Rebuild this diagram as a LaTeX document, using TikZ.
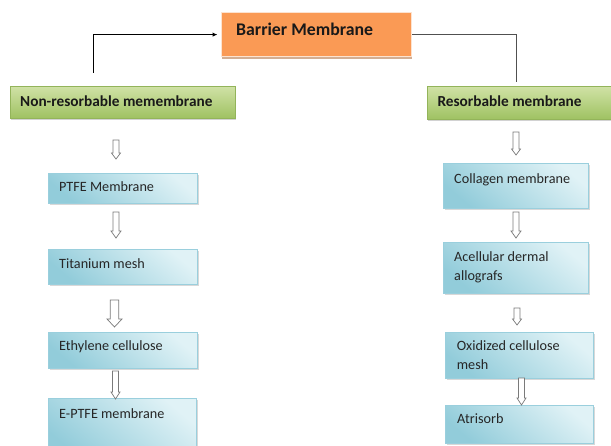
\documentclass[tikz,border=0pt]{standalone}
\usepackage{fontspec}
\setmainfont{Carlito}
\usetikzlibrary{shadows,calc,arrows.meta}
\definecolor{orangefill}{HTML}{FA9A55}
\definecolor{orangeedge}{HTML}{FDE3D0}
\definecolor{orangeshadow}{HTML}{C99A78}
\definecolor{greentop}{HTML}{D0E2A6}
\definecolor{greenbot}{HTML}{9FC262}
\definecolor{greenedge}{HTML}{93B45A}
\definecolor{bluelight}{HTML}{E0F2F6}
\definecolor{bluedark}{HTML}{92CCDA}
\definecolor{blueedge}{HTML}{9ACFDD}
\definecolor{txtcol}{HTML}{262626}
\definecolor{arrowgray}{HTML}{7A7A7A}
\definecolor{conngray}{HTML}{505050}
\tikzset{
  orangebox/.style={rectangle, anchor=north west, inner sep=0pt, fill=orangefill,
    draw=orangeedge, line width=1.2pt,
    drop shadow={shadow xshift=0.5pt, shadow yshift=-2.5pt, fill=orangeshadow, opacity=0.8}},
  greenbox/.style={rectangle, anchor=north west, inner sep=0pt, top color=greentop,
    bottom color=greenbot, draw=greenedge, line width=0.6pt,
    drop shadow={shadow xshift=1pt, shadow yshift=-1.5pt, opacity=0.35}},
  bluebox/.style={rectangle, anchor=north west, inner sep=0pt, top color=bluelight,
    bottom color=bluedark, shading angle=-40, draw=blueedge, line width=0.6pt,
    drop shadow={shadow xshift=1.2pt, shadow yshift=-1.5pt, opacity=0.3}},
  boxtxt/.style={anchor=base west, inner sep=0pt, text=txtcol,
    font=\fontsize{14.2}{19}\selectfont},
  headtxt/.style={anchor=base west, inner sep=0pt, text=black!90,
    font=\bfseries\fontsize{15.3}{19}\selectfont},
  titletxt/.style={anchor=base west, inner sep=0pt, text=black!90,
    font=\bfseries\fontsize{17.8}{21}\selectfont},
  holline/.style={draw=arrowgray, fill=white, line width=0.7pt, line join=miter},
  pics/holarrow/.style n args={4}{code={
    \draw[holline] (-#3,0) -- (#3,0) -- (#3,#1-#4) -- (#2,#1-#4) -- (0,#1)
      -- (-#2,#1-#4) -- (-#3,#1-#4) -- cycle;
  }},
  connblack/.style={draw=black, line width=1.1pt},
  conngrey/.style={draw=conngray, line width=0.9pt}
}
\begin{document}
\begin{tikzpicture}[x=1pt,y=-1pt]
\clip (0,0) rectangle (611,445);
\fill[white] (0,0) rectangle (611,445);

% title
\node[orangebox, minimum width=190pt, minimum height=44pt] (bm) at (221,12) {};
\node[titletxt] (bmt) at (236,35) {Barrier Membrane};

% green headers
\node[greenbox, minimum width=225pt, minimum height=32pt] (nr) at (10,86) {};
\node[headtxt] (nrt) at (20,106) {Non-resorbable memembrane};
\node[greenbox, minimum width=200pt, minimum height=33pt] (rs) at (427,86) {};
\node[headtxt] (rst) at (437.3,106.7) {Resorbable membrane};

% connectors
\coordinate (lstart) at (93.3,72.7);
\coordinate (rend) at (516,81.7);
\draw[connblack, -{Latex[length=5pt,width=4.5pt]}, shorten >=3.5pt] (lstart) |- (bm.west);
\draw[conngrey] (bm.east) -| (rend);

% left column
\node[bluebox, minimum width=149pt, minimum height=30pt] (b1) at (48,173) {};
\node[boxtxt] (b1t) at (59,191.5) {PTFE Membrane};
\node[bluebox, minimum width=149pt, minimum height=35pt] (b2) at (48,249) {};
\node[boxtxt] (b2t) at (59,268) {Titanium mesh};
\node[bluebox, minimum width=149pt, minimum height=36pt] (b3) at (48,332) {};
\node[boxtxt] (b3t) at (59,350.7) {Ethylene cellulose};
\node[bluebox, minimum width=148pt, minimum height=60pt] (b4) at (48,398) {};
\node[boxtxt] (b4t) at (59,418) {E-PTFE membrane};

\pic (a1) at (116,140) {holarrow={19}{4.5}{3}{6}};
\pic (a2) at (116,212) {holarrow={26}{5}{3}{7}};
\pic (a3) at (114.5,300) {holarrow={27}{7.5}{4.2}{8}};
\pic (a4) at (115.5,371) {holarrow={28}{4.5}{3}{7}};

% right column
\node[bluebox, minimum width=145pt, minimum height=45pt] (c1) at (443,163) {};
\node[boxtxt] (c1t) at (454,183) {Collagen membrane};
\node[bluebox, minimum width=145pt, minimum height=51pt] (c2) at (443,242) {};
\node[boxtxt] (c2t) at (454,261.7) {Acellular dermal};
\node[boxtxt] (c2u) at (454,280.5) {allografs};
\node[bluebox, minimum width=148pt, minimum height=46pt] (c3) at (445,332) {};
\node[boxtxt] (c3t) at (456.7,350) {Oxidized cellulose};
\node[boxtxt] (c3u) at (456.7,369) {mesh};
\node[bluebox, minimum width=148pt, minimum height=38pt] (c4) at (445,405) {};
\node[boxtxt] (c4t) at (457,423) {Atrisorb};

\pic (d1) at (516,132) {holarrow={23}{4.5}{3}{6}};
\pic (d2) at (516,212) {holarrow={26}{5}{3}{7}};
\pic (d3) at (517,308) {holarrow={17}{4.5}{3}{6}};
\pic (d4) at (521.5,378) {holarrow={27}{4.5}{3}{7}};
\end{tikzpicture}
\end{document}
